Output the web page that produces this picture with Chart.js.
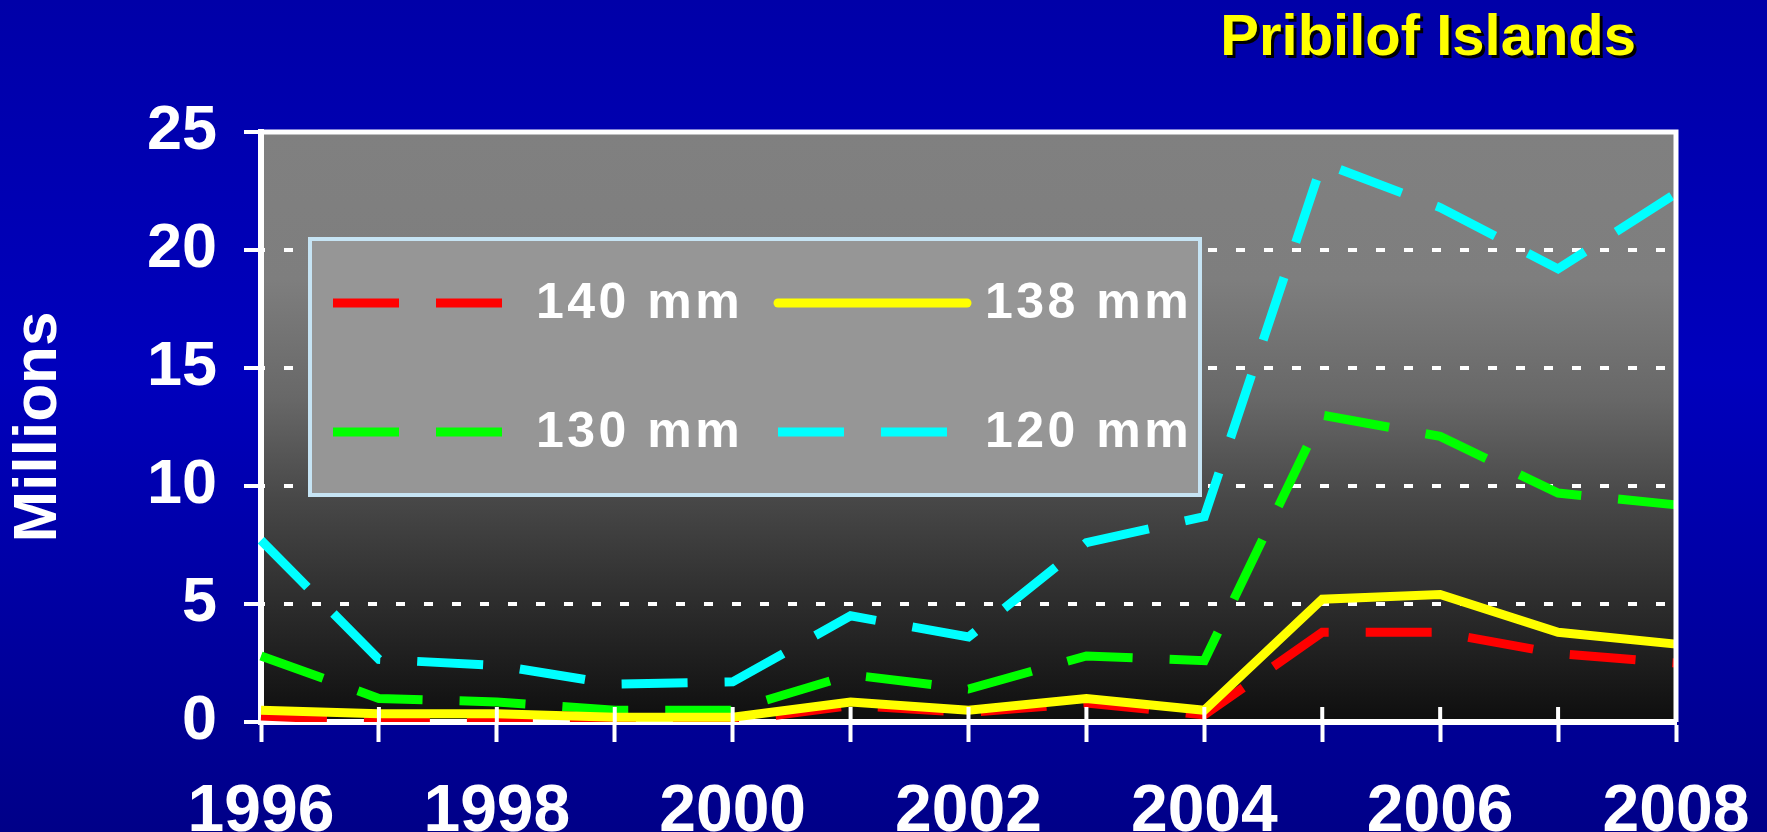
<!DOCTYPE html>
<html>
<head>
<meta charset="utf-8">
<script src="https://cdn.jsdelivr.net/npm/chart.js@4"></script>
<style>
  html, body { margin: 0; padding: 0; background: #0000b0; }
  #wrap { width: 1767px; height: 832px; }
</style>
</head>
<body>
<div id="wrap"><canvas id="chart" width="1767" height="832"></canvas></div>
<script>
//Data
const years = ['1996', '1997', '1998', '1999', '2000', '2001', '2002', '2003', '2004', '2005', '2006', '2007', '2008'];
const mm140 = [0.25, 0.05, 0.05, 0.05, 0.05, 0.7, 0.4, 0.8, 0.3, 3.8, 3.8, 2.9, 2.5];
const mm138 = [0.5, 0.35, 0.35, 0.2, 0.2, 0.85, 0.5, 1.0, 0.5, 5.2, 5.4, 3.8, 3.3];
const mm130 = [2.8, 1.0, 0.85, 0.5, 0.5, 2.0, 1.4, 2.8, 2.6, 13.0, 12.1, 9.7, 9.2];
const mm120 = [7.7, 2.65, 2.4, 1.6, 1.7, 4.5, 3.6, 7.6, 8.7, 23.7, 21.8, 19.2, 22.4];
const seriesNames = ['140 mm', '138 mm', '130 mm', '120 mm'];
const yTicks = [0, 5, 10, 15, 20, 25];
const chartTitle = 'Pribilof Islands';
const yTitle = 'Millions';

const FONT = "'Liberation Sans', Arial, sans-serif";
const dash = [66, 37];

//Slide background + grey plot panel, drawn before everything else
const backdrop = {
    id: 'backdrop',
    beforeDraw(chart) {
        const {ctx, width, height, chartArea: a} = chart;
        ctx.save();
        let g = ctx.createLinearGradient(0, 0, 0, height);
        g.addColorStop(0, '#0000a8');
        g.addColorStop(0.45, '#0000bd');
        g.addColorStop(1, '#000088');
        ctx.fillStyle = g;
        ctx.fillRect(0, 0, width, height);
        g = ctx.createLinearGradient(0, a.top, 0, a.bottom);
        g.addColorStop(0, '#808080');
        g.addColorStop(0.25, '#7e7e7e');
        g.addColorStop(0.45, '#686868');
        g.addColorStop(0.62, '#484848');
        g.addColorStop(1, '#0e0e0e');
        ctx.fillStyle = g;
        ctx.fillRect(a.left, a.top, a.right - a.left, a.bottom - a.top);
        ctx.restore();
    }
};

//Frame, inner x ticks, title and boxed legend
const overlay = {
    id: 'overlay',
    afterDraw(chart) {
        const {ctx, chartArea: a} = chart;
        const x = chart.scales.x;
        ctx.save();
        ctx.strokeStyle = '#ffffff';
        ctx.lineWidth = 5;
        ctx.beginPath();
        ctx.moveTo(a.left, a.top);
        ctx.lineTo(a.right, a.top);
        ctx.lineTo(a.right, a.bottom);
        ctx.stroke();

        ctx.lineWidth = 4;
        for (let i = 1; i < years.length; i++) {
            const px = x.getPixelForTick(i);
            ctx.beginPath();
            ctx.moveTo(px, a.bottom);
            ctx.lineTo(px, a.bottom - 15);
            ctx.stroke();
        }

        //title with drop shadow
        ctx.font = 'bold 58px ' + FONT;
        ctx.textAlign = 'right';
        ctx.textBaseline = 'alphabetic';
        ctx.fillStyle = '#000000';
        ctx.fillText(chartTitle, 1639, 58);
        ctx.fillStyle = '#ffff00';
        ctx.fillText(chartTitle, 1636, 55);

        //legend box
        ctx.fillStyle = '#969696';
        ctx.fillRect(310, 239, 890, 256);
        ctx.strokeStyle = '#c6e4f4';
        ctx.lineWidth = 4;
        ctx.strokeRect(310, 239, 890, 256);

        const cols = [{x0: 333, x1: 502, tx: 536}, {x0: 778, x1: 967, tx: 985}];
        const rows = [303, 432];
        const items = [0, 1, 2, 3]; //140, 138 / 130, 120
        items.forEach((di, k) => {
            const ds = chart.data.datasets[di];
            const c = cols[k % 2];
            const y = rows[Math.floor(k / 2)];
            ctx.beginPath();
            ctx.strokeStyle = ds.borderColor;
            ctx.lineWidth = 9;
            ctx.setLineDash(ds.borderDash || []);
            ctx.lineCap = ds.borderDash && ds.borderDash.length ? 'butt' : 'round';
            ctx.moveTo(c.x0, y);
            ctx.lineTo(c.x1, y);
            ctx.stroke();
            ctx.setLineDash([]);
            ctx.font = 'bold 50px ' + FONT;
            ctx.letterSpacing = '3.5px';
            ctx.textAlign = 'left';
            ctx.textBaseline = 'middle';
            ctx.fillStyle = '#ffffff';
            ctx.fillText(ds.label, c.tx, y + 1);
        });
        ctx.restore();
    }
};

const ctx = document.getElementById('chart');

const chartData = {
    labels: years,
    datasets: [
        {label: seriesNames[0], data: mm140, borderColor: '#ff0000', borderDash: dash, order: 3},
        {label: seriesNames[1], data: mm138, borderColor: '#ffff00', order: 0},
        {label: seriesNames[2], data: mm130, borderColor: '#00ff00', borderDash: dash, order: 2},
        {label: seriesNames[3], data: mm120, borderColor: '#00ffff', borderDash: dash, order: 1}
    ].map(d => Object.assign({
        borderWidth: 9,
        pointRadius: 0,
        tension: 0,
        fill: false,
        borderCapStyle: 'butt',
        borderJoinStyle: 'miter'
    }, d))
};

const config = {
    type: 'line',
    data: chartData,
    options: {
        responsive: false,
        animation: false,
        layout: {padding: {top: 132, right: 91, left: 0, bottom: 0}},
        plugins: {
            legend: {display: false},
            title: {display: false},
            tooltip: {enabled: false}
        },
        scales: {
            x: {
                offset: false,
                afterFit: s => {
                    s.height = 110;
                    s.paddingLeft = 0; //let the year labels hang past the frame
                    s.paddingRight = 0;
                },
                border: {display: true, color: '#ffffff', width: 6},
                grid: {
                    drawOnChartArea: false,
                    drawTicks: true,
                    tickLength: 20,
                    tickWidth: 4,
                    tickColor: '#ffffff'
                },
                ticks: {
                    autoSkip: false,
                    maxRotation: 0,
                    padding: 31,
                    color: '#ffffff',
                    font: {family: FONT, size: 66, weight: 'bold'},
                    callback: (v, i) => i % 2 === 0 ? years[i] : ''
                }
            },
            y: {
                min: yTicks[0],
                max: yTicks[yTicks.length - 1],
                afterFit: s => { s.width = 261; },
                afterBuildTicks: s => { s.ticks = yTicks.map(v => ({value: v})); },
                border: {display: true, color: '#ffffff', width: 6, dash: [9, 19], dashOffset: -20},
                grid: {
                    color: '#ffffff',
                    lineWidth: 4,
                    tickLength: 17,
                    tickWidth: 4,
                    tickColor: '#ffffff',
                    tickBorderDash: []
                },
                ticks: {
                    padding: 27,
                    color: '#ffffff',
                    font: {family: FONT, size: 63, weight: 'bold'}
                },
                title: {
                    display: true,
                    text: yTitle,
                    color: '#ffffff',
                    padding: {top: 2, bottom: 0},
                    font: {family: FONT, size: 62, weight: 'bold'}
                }
            }
        }
    },
    plugins: [backdrop, overlay]
};

const chart = new Chart(ctx, config);
</script>
</body>
</html>
